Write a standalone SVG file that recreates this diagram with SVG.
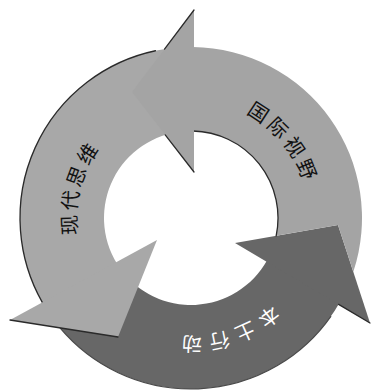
<svg xmlns="http://www.w3.org/2000/svg" width="373" height="392" viewBox="0 0 373 392">
<style>
.light{fill:#a8a8a8}
.mid{fill:#a4a4a4}
.dark{fill:#676767}
.edge{fill:none;stroke:#2a2a2a;stroke-width:1.3;stroke-linecap:round}
.rim{fill:none;stroke:#4a4a4a;stroke-width:1.2}
.lbl{font-family:"Noto Sans CJK SC","Noto Sans CJK JP",sans-serif;font-size:20px}
.blk{fill:#111}
.wht{fill:#fff}
</style>
<defs>
<path id="pLeft" d="M91.84,275.25 A114.5,114.5 0 0 1 133.75,118.84"/>
<path id="pTop" d="M202.62,100.57 A118,118 0 0 1 308.43,229.62"/>
<path id="pBot" d="M296.58,271.80 A118.5,118.5 0 0 1 137.20,323.58"/>
</defs>
<rect width="373" height="392" fill="#fff"/>
<g id="arrow-bentu">
<path class="dark" d="M50.93,316.08 A171,171 0 0 0 340.12,301.68 L267.09,260.18 A87,87 0 0 1 119.73,267.90 Z"/>
<path class="rim" d="M60,327.9 A171,171 0 0 0 331.07,316.08"/>
<polygon class="dark" points="235,243 338,225 370,323"/>
<path class="edge" d="M338.6,304.4 L370,323"/>
<text class="lbl wht"><textPath href="#pBot" startOffset="50%" text-anchor="middle" letter-spacing="6">本土行动</textPath></text>
</g>
<g id="arrow-xiandai">
<path class="light" d="M176.10,47.65 A171,171 0 0 0 43.66,304.79 L116.90,263.59 A87,87 0 0 1 183.42,131.33 Z"/>
<path class="edge" d="M155.45,50.74 A171,171 0 0 0 42.3,302.4"/>
<polygon class="light" points="10,320 118,337 157,240"/>
<path class="edge" d="M10,320 L118,337"/>
<text class="lbl blk"><textPath href="#pLeft" startOffset="50%" text-anchor="middle" letter-spacing="3.4">现代思维</textPath></text>
</g>
<g id="arrow-guoji">
<path class="mid" d="M193,47.01 A171,171 0 0 1 353.30,271.85 L338,225 L276.16,235.81 A87,87 0 0 0 193,131.02 Z"/>
<path class="edge" d="M193,131.02 A87,87 0 0 1 276.16,235.81"/>
<polygon class="mid" points="194,10 132,92 194,172"/>
<path class="edge" d="M165.2,134.9 L194,172 M194,10 L164.5,49.1"/>
<text class="lbl blk"><textPath href="#pTop" startOffset="50%" text-anchor="middle" letter-spacing="3.7">国际视野</textPath></text>
</g>
<g id="connectors"/>
</svg>
